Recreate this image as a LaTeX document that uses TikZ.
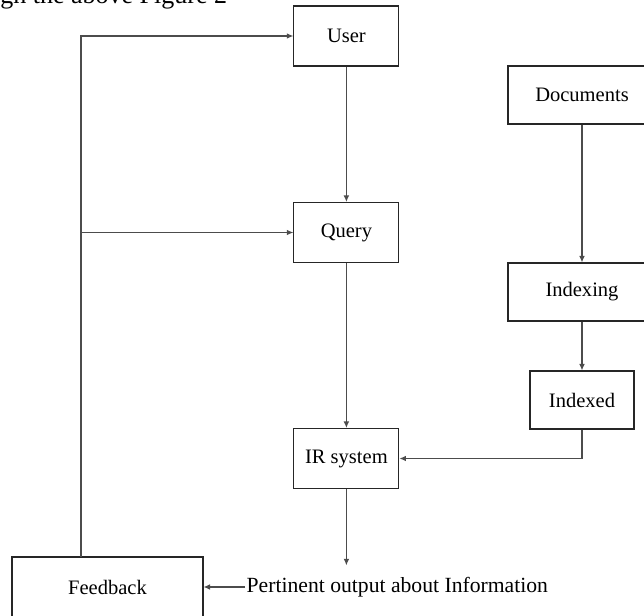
\documentclass[tikz,border=0pt]{standalone}
\usepackage{fontspec}
\setmainfont{Liberation Serif}
\usetikzlibrary{shapes,arrows.meta}
\tikzstyle{block} = [draw=black!85, rectangle, line width=0.8pt, text centered, minimum width=2.625cm, minimum height=1.5cm, font=\fontsize{14.6}{17}\selectfont]
\tikzstyle{wide} = [block, minimum width=3.7cm, minimum height=1.45cm]
\tikzstyle{line} = [draw=black!70, line width=0.75pt, -{Latex[length=4.6pt,width=4pt]}]

\begin{document}
\begin{tikzpicture}[node distance=2cm, auto]
    \useasboundingbox (0,0) rectangle (16.1,-15.375);
    \node [anchor=base west, inner sep=0pt, font=\fontsize{18.5}{22}\selectfont] (caption) at (0,-0.08) {gh the above Figure 2};

    \node [block] (user) at (8.66,-0.9) {User};
    \node [block, below of=user, node distance=4.9125cm] (query) {Query};
    \node [block, below of=query, node distance=5.65cm] (ir) {IR system};
    \node [wide] (documents) at (14.55,-2.375) {Documents};
    \node [wide, below of=documents, node distance=4.925cm] (indexing) {Indexing};
    \node [block, minimum width=2.6cm, minimum height=1.45cm, below of=indexing, node distance=2.7cm] (indexed) {Indexed};
    \node [block, minimum width=4.775cm] (feedback) at (2.6875,-14.675) {Feedback};
    \node [anchor=west, inner sep=1pt, font=\fontsize{15.4}{18}\selectfont] (output) at (6.125,-14.675) {Pertinent output about Information};
    \coordinate (fb) at (2.025,-13.925);

    \path [line](user) -- (query);
    \path [line](query) -- (ir);
    \path [line](documents) -- (indexing);
    \path [line](indexing) -- (indexed);
    \path [line](indexed) |- (ir);
    \path [line](ir) -- ([yshift=0.25cm]ir.south |- output.north);
    \path [line](output) -- (feedback);
    \path [line](fb) |- (user);
    \path [line](fb |- query.west) -- (query);
\end{tikzpicture}
\end{document}
